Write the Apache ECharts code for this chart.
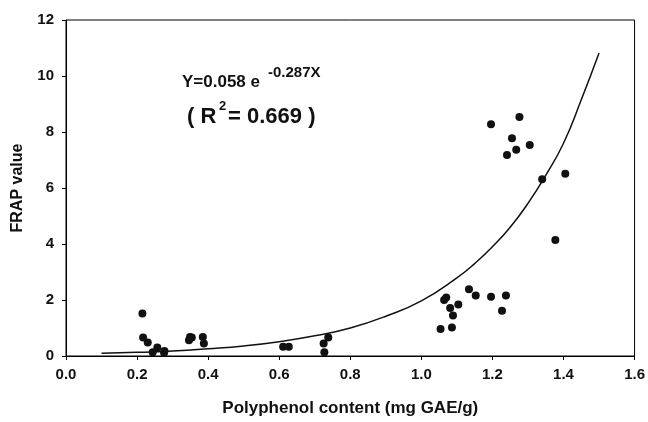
<!DOCTYPE html>
<html>
<head>
<meta charset="utf-8">
<script src="https://cdn.jsdelivr.net/npm/echarts@6/dist/echarts.min.js"></script>
<style>
  html, body { margin: 0; padding: 0; background: #fff; }
  #chart { width: 648px; height: 422px; }
</style>
</head>
<body>
<div id="chart"></div>
<script>
// measured points (polyphenol content, FRAP value)
var polyphenol = [0.215, 0.217, 0.230, 0.244, 0.257, 0.277, 0.276, 0.346, 0.349, 0.354,
  0.385, 0.388, 0.611, 0.627, 0.725, 0.738, 0.727,
  1.054, 1.064, 1.070, 1.081, 1.089, 1.086, 1.104, 1.134, 1.153, 1.196, 1.238, 1.227,
  1.196, 1.276, 1.255, 1.241, 1.267, 1.305, 1.340, 1.405, 1.377];
var frap = [1.52, 0.66, 0.48, 0.13, 0.30, 0.18, 0.12, 0.56, 0.68, 0.66,
  0.68, 0.45, 0.33, 0.33, 0.45, 0.66, 0.13,
  0.96, 2.00, 2.09, 1.71, 1.45, 1.02, 1.84, 2.38, 2.16, 2.12, 2.16, 1.62,
  8.28, 8.54, 7.78, 7.18, 7.37, 7.54, 6.31, 6.51, 4.14];

// trend line
var trendX = [0.10, 0.20, 0.30, 0.40, 0.50, 0.60, 0.70, 0.80, 0.90, 1.00, 1.10, 1.15, 1.20, 1.25, 1.30, 1.35, 1.40, 1.45, 1.50];
var trendY = [0.10, 0.13, 0.18, 0.26, 0.36, 0.51, 0.72, 1.00, 1.42, 1.97, 2.79, 3.30, 3.90, 4.60, 5.45, 6.45, 7.60, 9.15, 10.82];

var xTicks = { min: 0, max: 1.6, step: 0.2 };
var yTicks = { min: 0, max: 12, step: 2 };

var pts = [];
for (var i = 0; i < polyphenol.length; i++) {
  pts.push([polyphenol[i], frap[i]]);
}
var trend = [];
for (var j = 0; j < trendX.length; j++) {
  trend.push([trendX[j], trendY[j]]);
}

var fontFam = '"Liberation Sans", Arial, sans-serif';
var chart = echarts.init(document.getElementById('chart'));
chart.setOption({
  animation: false,
  grid: {
    left: 66, right: 13, top: 20, bottom: 61,
    show: true, borderColor: '#000', borderWidth: 1
  },
  xAxis: {
    type: 'value',
    min: xTicks.min, max: xTicks.max, interval: xTicks.step,
    name: 'Polyphenol content (mg GAE/g)',
    nameLocation: 'middle',
    nameGap: 44,
    nameTextStyle: { fontFamily: fontFam, fontWeight: 'bold', fontSize: 17, color: '#111' },
    axisLine: { lineStyle: { color: '#000', width: 1 } },
    axisTick: { inside: false, length: 4, lineStyle: { color: '#000' } },
    axisLabel: {
      margin: 11,
      fontFamily: fontFam, fontWeight: 'bold', fontSize: 15, color: '#111',
      formatter: function (v) { return v.toFixed(1); }
    },
    splitLine: { show: false }
  },
  yAxis: {
    type: 'value',
    min: yTicks.min, max: yTicks.max, interval: yTicks.step,
    name: 'FRAP value',
    nameLocation: 'middle',
    nameGap: 40,
    nameTextStyle: { fontFamily: fontFam, fontWeight: 'bold', fontSize: 16, color: '#111' },
    axisLine: { lineStyle: { color: '#000', width: 1 } },
    axisTick: { inside: false, length: 4, lineStyle: { color: '#000' } },
    axisLabel: {
      margin: 12,
      fontFamily: fontFam, fontWeight: 'bold', fontSize: 15, color: '#111'
    },
    splitLine: { show: false }
  },
  graphic: [
    { type: 'text', left: 182, top: 74,
      style: { text: 'Y=0.058 e', font: 'bold 17px ' + fontFam, fill: '#111' } },
    { type: 'text', left: 268, top: 65,
      style: { text: '-0.287X', font: 'bold 15px ' + fontFam, fill: '#111' } },
    { type: 'text', left: 187, top: 106,
      style: { text: '( R', font: 'bold 22px ' + fontFam, fill: '#111' } },
    { type: 'text', left: 219, top: 100,
      style: { text: '2', font: 'bold 13px ' + fontFam, fill: '#111' } },
    { type: 'text', left: 228, top: 106,
      style: { text: '= 0.669 )', font: 'bold 22px ' + fontFam, fill: '#111' } }
  ],
  series: [
    {
      type: 'line',
      data: trend,
      smooth: true,
      showSymbol: false,
      lineStyle: { color: '#111', width: 1.5 },
      z: 2
    },
    {
      type: 'scatter',
      data: pts,
      symbol: 'circle',
      symbolSize: 8,
      itemStyle: { color: '#111', opacity: 1 },
      z: 3
    }
  ]
});
</script>
</body>
</html>
